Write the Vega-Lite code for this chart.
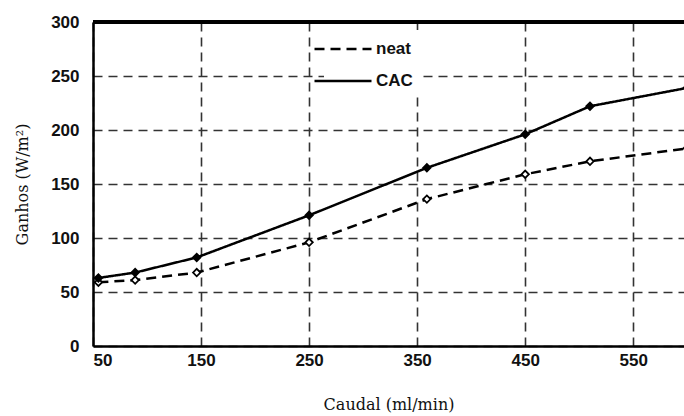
{
  "$schema": "https://vega.github.io/schema/vega-lite/v6.json",
  "autosize": "none",
  "width": 591,
  "height": 324,
  "padding": {"left": 93, "top": 22, "right": 0, "bottom": 70},
  "background": "white",
  "config": {
    "view": {"stroke": null},
    "axis": {
      "labelFont": "Liberation Sans",
      "labelFontWeight": "bold",
      "labelFontSize": 17,
      "labelColor": "#111",
      "titleFont": "DejaVu Serif",
      "titleFontWeight": "normal",
      "titleFontSize": 16,
      "titleColor": "#111",
      "domainColor": "black",
      "domainWidth": 2.5,
      "ticks": false,
      "gridColor": "#333",
      "gridDash": [9, 6],
      "gridWidth": 1.6,
      "gridOpacity": 1
    }
  },
  "data": {
    "values": [
      {"caudal": 55, "ganhos": 59, "serie": "neat"},
      {"caudal": 89, "ganhos": 61, "serie": "neat"},
      {"caudal": 146, "ganhos": 68, "serie": "neat"},
      {"caudal": 250, "ganhos": 96, "serie": "neat"},
      {"caudal": 359, "ganhos": 136, "serie": "neat"},
      {"caudal": 450, "ganhos": 159, "serie": "neat"},
      {"caudal": 510, "ganhos": 171, "serie": "neat"},
      {"caudal": 600, "ganhos": 183, "serie": "neat"},
      {"caudal": 55, "ganhos": 63, "serie": "CAC"},
      {"caudal": 89, "ganhos": 68, "serie": "CAC"},
      {"caudal": 146, "ganhos": 82, "serie": "CAC"},
      {"caudal": 250, "ganhos": 121, "serie": "CAC"},
      {"caudal": 359, "ganhos": 165, "serie": "CAC"},
      {"caudal": 450, "ganhos": 196, "serie": "CAC"},
      {"caudal": 510, "ganhos": 222, "serie": "CAC"},
      {"caudal": 600, "ganhos": 239, "serie": "CAC"}
    ]
  },
  "encoding": {
    "x": {
      "field": "caudal", "type": "quantitative",
      "scale": {"domain": [50, 597], "nice": false, "zero": false},
      "axis": {"values": [50, 150, 250, 350, 450, 550], "title": "Caudal (ml/min)", "labelPadding": 6, "titlePadding": 28}
    },
    "y": {
      "field": "ganhos", "type": "quantitative",
      "scale": {"domain": [0, 300], "nice": false},
      "axis": {"values": [0, 50, 100, 150, 200, 250, 300], "title": "Ganhos (W/m²)", "labelPadding": 14, "titlePadding": 20}
    }
  },
  "layer": [
    {
      "mark": {"type": "rule", "color": "black", "strokeWidth": 2.5},
      "encoding": {"y": {"datum": 300}, "x": null}
    },
    {
      "mark": {"type": "line", "color": "black", "strokeWidth": 2.5, "clip": true},
      "encoding": {
        "strokeDash": {
          "field": "serie", "type": "nominal",
          "scale": {"domain": ["neat", "CAC"], "range": [[10, 6], [1, 0]]},
          "legend": {
            "title": null,
            "orient": "none",
            "legendX": 231,
            "legendY": 8,
            "padding": 8,
            "fillColor": "white",
            "symbolType": "M-3,0H3",
            "symbolSize": 361,
            "symbolStrokeWidth": 2.5,
            "symbolStrokeColor": "black",
            "symbolFillColor": "transparent",
            "labelFont": "Liberation Sans",
            "labelFontWeight": "bold",
            "labelFontSize": 17,
            "labelColor": "#111",
            "rowPadding": 13,
            "labelOffset": 22
          }
        }
      }
    },
    {
      "mark": {"type": "point", "shape": "diamond", "size": 55, "strokeWidth": 1.8, "color": "black", "filled": false, "opacity": 1, "clip": true},
      "encoding": {
        "fill": {
          "field": "serie", "type": "nominal",
          "scale": {"domain": ["neat", "CAC"], "range": ["white", "black"]},
          "legend": null
        }
      }
    }
  ]
}
